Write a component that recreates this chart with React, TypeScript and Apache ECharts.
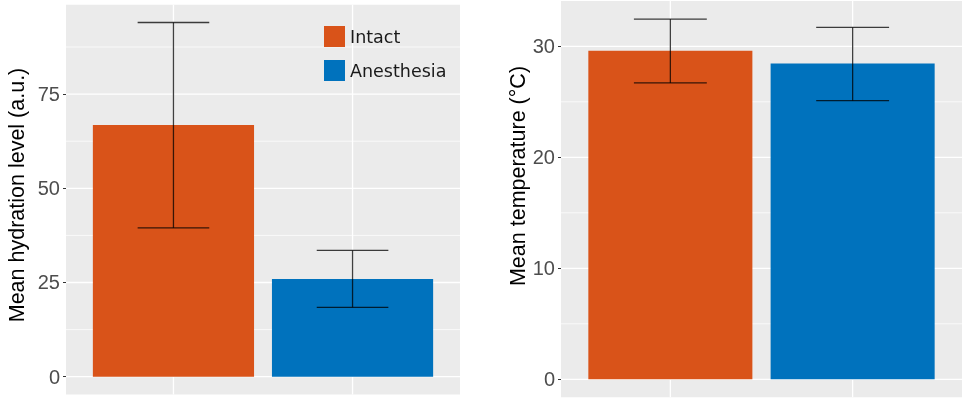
import React, { useEffect, useRef } from "react";
import * as echarts from "echarts";

// Groups shown in both panels
const groups = ["Intact", "Anesthesia"];
const groupColors = ["#D95319", "#0072BD"];

// Left panel: hydration level (a.u.), mean with lower/upper error limits
const hydrationMean = [66.8, 25.9];
const hydrationLow = [39.5, 18.4];
const hydrationHigh = [94.0, 33.5];
const hydrationTicks = [0, 25, 50, 75];

// Right panel: temperature (°C), mean with lower/upper error limits
const tempMean = [29.6, 28.45];
const tempLow = [26.7, 25.1];
const tempHigh = [32.45, 31.7];
const tempTicks = [0, 10, 20, 30];

const PANEL_BG = "#EBEBEB";
const LABEL_FONT = "'Liberation Sans', Arial, Helvetica, sans-serif";

// ggplot-like 5% expansion of the value range
function expandedRange(high: number[]) {
  const top = Math.max(...high);
  return { min: -0.05 * top, max: top * 1.05 };
}

function minorLines(ticks: number[], min: number, max: number) {
  const step = ticks[1] - ticks[0];
  const out: number[] = [];
  for (let i = 0; i <= ticks.length; i++) {
    const v = (i === 0 ? ticks[0] - step : ticks[i - 1]) + step / 2;
    if (v > min && v < max) out.push(v);
  }
  return out;
}

function gridSeries(idx: number, ticks: number[], min: number, max: number) {
  const majors = ticks.map((v) => ({ value: [v, 0], kind: "h", major: true }));
  const minors = minorLines(ticks, min, max).map((v) => ({ value: [v, 0], kind: "h", major: false }));
  const verts = groups.map((_, i) => ({ value: [i + 1, 0], kind: "v", major: true }));
  const data = [...minors, ...majors, ...verts];
  return {
    type: "custom",
    xAxisIndex: idx,
    yAxisIndex: idx,
    silent: true,
    z: 1,
    data: data.map((d) => d.value),
    renderItem: (params: any, api: any) => {
      const d = data[params.dataIndex];
      const cs = params.coordSys;
      const v = api.value(0);
      if (d.kind === "h") {
        const y = api.coord([1, v])[1];
        return {
          type: "line",
          shape: { x1: cs.x, y1: y, x2: cs.x + cs.width, y2: y },
          style: { stroke: "#FFFFFF", lineWidth: d.major ? 1.3 : 0.7 },
        };
      }
      const x = api.coord([v, 0])[0];
      return {
        type: "line",
        shape: { x1: x, y1: cs.y, x2: x, y2: cs.y + cs.height },
        style: { stroke: "#FFFFFF", lineWidth: 1.3 },
      };
    },
  };
}

function barSeries(idx: number, mean: number[]) {
  return groups.map((name, i) => ({
    type: "custom",
    name,
    xAxisIndex: idx,
    yAxisIndex: idx,
    z: 2,
    itemStyle: { color: groupColors[i] },
    data: [[i + 1, mean[i]]],
    renderItem: (params: any, api: any) => {
      const x = api.value(0);
      const m = api.value(1);
      const p1 = api.coord([x - 0.45, m]);
      const p2 = api.coord([x + 0.45, 0]);
      return {
        type: "rect",
        shape: { x: p1[0], y: p1[1], width: p2[0] - p1[0], height: p2[1] - p1[1] },
        style: { fill: groupColors[i] },
      };
    },
  }));
}

function errorSeries(idx: number, low: number[], high: number[]) {
  return {
    type: "custom",
    xAxisIndex: idx,
    yAxisIndex: idx,
    silent: true,
    z: 3,
    data: groups.map((_, i) => [i + 1, low[i], high[i]]),
    renderItem: (params: any, api: any) => {
      const x = api.value(0);
      const lo = api.coord([x, api.value(1)]);
      const hi = api.coord([x, api.value(2)]);
      const half = api.coord([x + 0.2, 0])[0] - lo[0];
      const style = { stroke: "rgba(0,0,0,0.75)", lineWidth: 1.3 };
      return {
        type: "group",
        children: [
          { type: "line", shape: { x1: lo[0], y1: lo[1], x2: hi[0], y2: hi[1] }, style },
          { type: "line", shape: { x1: lo[0] - half, y1: lo[1], x2: lo[0] + half, y2: lo[1] }, style },
          { type: "line", shape: { x1: hi[0] - half, y1: hi[1], x2: hi[0] + half, y2: hi[1] }, style },
        ],
      };
    },
  };
}

function xAxisFor(idx: number) {
  return {
    type: "value",
    gridIndex: idx,
    min: 0.4,
    max: 2.6,
    axisLine: { show: false },
    splitLine: { show: false },
    axisLabel: { show: false },
    axisTick: {
      show: true,
      customValues: groups.map((_, i) => i + 1),
      length: 3,
      lineStyle: { color: "#333333", width: 1 },
    },
  };
}

function yAxisFor(idx: number, ticks: number[], min: number, max: number) {
  return {
    type: "value",
    gridIndex: idx,
    min,
    max,
    axisLine: { show: false },
    splitLine: { show: false },
    axisTick: {
      show: true,
      customValues: ticks,
      length: 3,
      lineStyle: { color: "#333333", width: 1 },
    },
    axisLabel: {
      customValues: ticks,
      color: "#4D4D4D",
      fontSize: 20,
      fontFamily: LABEL_FONT,
      margin: 6,
    },
  };
}

export default function App() {
  const ref = useRef<HTMLDivElement>(null);

  useEffect(() => {
    if (!ref.current) return;
    const chart = echarts.init(ref.current, undefined, { renderer: "svg" });
    const hr = expandedRange(hydrationHigh);
    const tr = expandedRange(tempHigh);

    chart.setOption({
      animation: false,
      grid: [
        { left: 66, top: 4.8, width: 394, height: 389.6, show: true, backgroundColor: PANEL_BG, borderWidth: 0 },
        { left: 561, top: 1.1, width: 401, height: 396.2, show: true, backgroundColor: PANEL_BG, borderWidth: 0 },
      ],
      xAxis: [xAxisFor(0), xAxisFor(1)],
      yAxis: [yAxisFor(0, hydrationTicks, hr.min, hr.max), yAxisFor(1, tempTicks, tr.min, tr.max)],
      legend: {
        data: groups,
        orient: "vertical",
        left: 324,
        top: 26,
        padding: 0,
        itemWidth: 21,
        itemHeight: 21,
        itemGap: 13,
        icon: "rect",
        selectedMode: false,
        textStyle: { fontFamily: "'DejaVu Sans', sans-serif", fontSize: 17.5, color: "#1A1A1A" },
      },
      graphic: [
        {
          type: "text",
          x: 16.5,
          y: 195,
          rotation: Math.PI / 2,
          style: {
            text: "Mean hydration level (a.u.)",
            fontSize: 21.5,
            fontFamily: LABEL_FONT,
            fill: "#000000",
            align: "center",
            verticalAlign: "middle",
          },
        },
        {
          type: "text",
          x: 517.5,
          y: 176,
          rotation: Math.PI / 2,
          style: {
            text: "Mean temperature (°C)",
            fontSize: 21.5,
            fontFamily: LABEL_FONT,
            fill: "#000000",
            align: "center",
            verticalAlign: "middle",
          },
        },
      ],
      series: [
        gridSeries(0, hydrationTicks, hr.min, hr.max),
        gridSeries(1, tempTicks, tr.min, tr.max),
        ...barSeries(0, hydrationMean),
        ...barSeries(1, tempMean),
        errorSeries(0, hydrationLow, hydrationHigh),
        errorSeries(1, tempLow, tempHigh),
      ],
    });

    return () => chart.dispose();
  }, []);

  return <div ref={ref} style={{ position: "fixed", left: 0, top: 0, width: 962, height: 398 }} />;
}
